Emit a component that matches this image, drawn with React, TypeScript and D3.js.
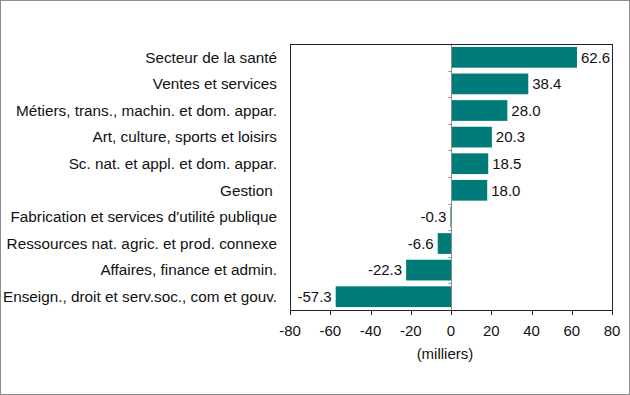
import * as d3 from "d3";
import { useEffect, useRef } from "react";

const categories = [
  "Secteur de la santé",
  "Ventes et services",
  "Métiers, trans., machin. et dom. appar.",
  "Art, culture, sports et loisirs",
  "Sc. nat. et appl. et dom. appar.",
  "Gestion ",
  "Fabrication et services d'utilité publique",
  "Ressources nat. agric. et prod. connexe",
  "Affaires, finance et admin.",
  "Enseign., droit et serv.soc., com et gouv.",
];
const values = [62.6, 38.4, 28.0, 20.3, 18.5, 18.0, -0.3, -6.6, -22.3, -57.3];
const xTicks = [-80, -60, -40, -20, 0, 20, 40, 60, 80];
const axisTitle = "(milliers)";

const W = 630;
const H = 395;
const FONT = "Arial, 'Liberation Sans', sans-serif";

export default function App() {
  const ref = useRef<SVGSVGElement | null>(null);

  useEffect(() => {
    const svg = d3.select(ref.current);
    svg.selectAll("*").remove();

    const left = 290, right = 612, top = 44, bottom = 310;

    const x = d3.scaleLinear().domain([-80, 80]).range([left, right]);
    const y = d3
      .scaleBand<string>()
      .domain(categories)
      .range([top, bottom])
      .paddingInner(0.22)
      .paddingOuter(0.11);

    // cadre extérieur
    svg
      .append("rect")
      .attr("x", 0.5)
      .attr("y", 0.5)
      .attr("width", W - 1)
      .attr("height", H - 1)
      .attr("fill", "white")
      .attr("stroke", "#8c8c8c");

    // barres
    svg
      .append("g")
      .selectAll("rect")
      .data(values)
      .join("rect")
      .attr("x", (d) => Math.min(x(0), x(d)))
      .attr("y", (_, i) => y(categories[i])!)
      .attr("width", (d) => Math.abs(x(d) - x(0)))
      .attr("height", y.bandwidth())
      .attr("fill", "#007b7a");

    // ligne zéro + petites graduations
    const zero = svg.append("g").attr("stroke", "#8c8c8c");
    zero
      .append("line")
      .attr("x1", x(0) + 0.5)
      .attr("x2", x(0) + 0.5)
      .attr("y1", top)
      .attr("y2", bottom);
    const step = (bottom - top) / categories.length;
    zero
      .selectAll("line.t")
      .data(d3.range(1, categories.length))
      .join("line")
      .attr("class", "t")
      .attr("x1", x(0) + 0.5)
      .attr("x2", x(0) - 2.5)
      .attr("y1", (i) => Math.round(top + i * step) + 0.5)
      .attr("y2", (i) => Math.round(top + i * step) + 0.5);

    // cadre du graphique
    svg
      .append("rect")
      .attr("x", left + 0.5)
      .attr("y", top + 0.5)
      .attr("width", right - left)
      .attr("height", bottom - top)
      .attr("fill", "none")
      .attr("stroke", "#222");

    // axe x
    const ax = svg.append("g");
    ax.selectAll("line")
      .data(xTicks)
      .join("line")
      .attr("x1", (d) => Math.round(x(d)) + 0.5)
      .attr("x2", (d) => Math.round(x(d)) + 0.5)
      .attr("y1", bottom)
      .attr("y2", bottom + 5)
      .attr("stroke", "#222");
    ax.selectAll("text")
      .data(xTicks)
      .join("text")
      .attr("x", (d) => x(d))
      .attr("y", bottom + 26)
      .attr("text-anchor", "middle")
      .attr("font-family", FONT)
      .attr("font-size", 15)
      .attr("fill", "#111")
      .text((d) => d);

    svg
      .append("text")
      .attr("x", x(-3))
      .attr("y", bottom + 49)
      .attr("text-anchor", "middle")
      .attr("font-family", FONT)
      .attr("font-size", 15)
      .attr("fill", "#111")
      .text(axisTitle);

    // étiquettes des catégories
    svg
      .append("g")
      .selectAll("text")
      .data(categories)
      .join("text")
      .attr("x", 277)
      .attr("y", (d) => y(d)! + y.bandwidth() / 2)
      .attr("dy", "0.35em")
      .attr("text-anchor", "end")
      .attr("font-family", FONT)
      .attr("font-size", 15.3)
      .attr("fill", "#111")
      .style("white-space", "pre")
      .text((d) => d);

    // valeurs
    svg
      .append("g")
      .selectAll("text")
      .data(values)
      .join("text")
      .attr("x", (d) => (d >= 0 ? x(d) + 4 : x(d) - 4))
      .attr("y", (_, i) => y(categories[i])! + y.bandwidth() / 2)
      .attr("dy", "0.35em")
      .attr("text-anchor", (d) => (d >= 0 ? "start" : "end"))
      .attr("font-family", FONT)
      .attr("font-size", 15)
      .attr("fill", "#111")
      .text((d) => d.toFixed(1));
  }, []);

  return (
    <svg
      ref={ref}
      width={W}
      height={H}
      style={{ position: "absolute", left: 0, top: 0, display: "block" }}
    />
  );
}
